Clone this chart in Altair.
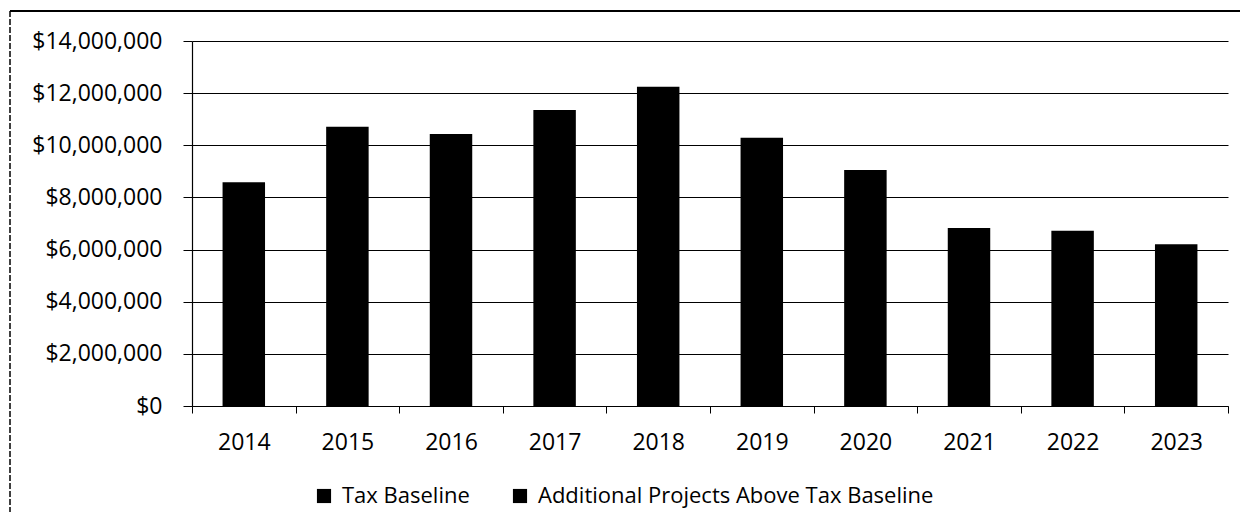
import altair as alt
import pandas as pd

years = ["2014", "2015", "2016", "2017", "2018", "2019", "2020", "2021", "2022", "2023"]
tax_baseline = [8580000, 10710000, 10430000, 11350000, 12250000, 10290000, 9050000, 6830000, 6720000, 6200000]
additional_projects = [0, 0, 0, 0, 0, 0, 0, 0, 0, 0]
series_names = ["Tax Baseline", "Additional Projects Above Tax Baseline"]
series_colors = ["#000000", "#000000"]

rows = []
for i, y in enumerate(years):
    rows.append({"year": y, "series": series_names[0], "value": tax_baseline[i], "order": 0})
    rows.append({"year": y, "series": series_names[1], "value": additional_projects[i], "order": 1})
df = pd.DataFrame(rows)

FONT = "Open Sans"

bars = alt.Chart(df).mark_bar(width=alt.RelativeBandSize(0.41)).encode(
    x=alt.X("year:O", sort=years,
            scale=alt.Scale(paddingInner=0, paddingOuter=0),
            axis=alt.Axis(title=None, labelAngle=0, tickBand="extent", labelFontSize=23,
                          labelFont=FONT, labelColor="#000000", labelPadding=18,
                          tickSize=7, tickColor="#000000", domainColor="#000000",
                          domainWidth=1.2, grid=False)),
    y=alt.Y("value:Q", stack="zero",
            scale=alt.Scale(domain=[0, 14000000], nice=False),
            axis=alt.Axis(title=None, values=[0, 2000000, 4000000, 6000000, 8000000, 10000000, 12000000, 14000000],
                          format="$,.0f", labelFontSize=23, labelFont=FONT, labelColor="#000000",
                          labelPadding=21, tickSize=9, tickColor="#000000",
                          domainColor="#000000", domainWidth=1.2,
                          grid=True, gridColor="#000000", gridWidth=1, gridOpacity=1)),
    color=alt.Color("series:N", sort=series_names,
                    scale=alt.Scale(domain=series_names, range=series_colors),
                    legend=alt.Legend(title=None, orient="none", direction="horizontal",
                                      legendX=121, legendY=444, padding=0,
                                      labelFontSize=22, labelFont=FONT, labelColor="#000000",
                                      labelLimit=1000,
                                      symbolType="square", symbolSize=200, symbolStrokeWidth=0,
                                      labelOffset=7, columnPadding=39)),
    order=alt.Order("order:Q"),
)

border_top = alt.Chart(pd.DataFrame({"k": [0]})).mark_rule(color="#000000", strokeWidth=2).encode(
    x=alt.value(-182), x2=alt.value(1060), y=alt.value(-30)
)
border_left = alt.Chart(pd.DataFrame({"k": [0]})).mark_rule(color="#000000", strokeWidth=1.5, strokeDash=[6, 2]).encode(
    x=alt.value(-182), y=alt.value(-30), y2=alt.value(480)
)

chart = alt.layer(bars, border_top, border_left).properties(
    width=1036, height=365,
    autosize=alt.AutoSizeParams(type="none"),
    padding={"left": 184, "top": 33, "right": 12, "bottom": 106},
    background="#ffffff",
).configure_view(stroke=None)

chart.save("out.html", embed_options={"renderer": "svg", "actions": False})
